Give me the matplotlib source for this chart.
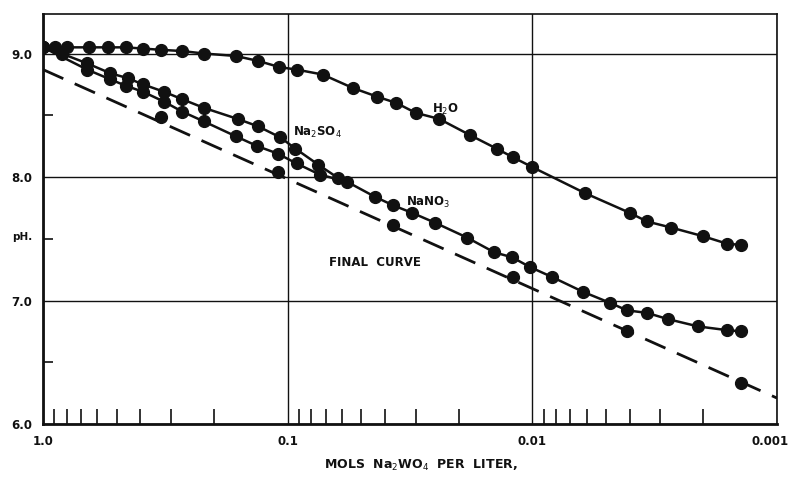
import matplotlib
matplotlib.use("Agg")
import matplotlib.pyplot as plt
import matplotlib.transforms as mtransforms
from matplotlib.ticker import FixedLocator, NullFormatter, LogLocator

# ---- data ----
h2o_conc = [1.0, 0.89, 0.80, 0.65, 0.54, 0.46, 0.39, 0.33, 0.27, 0.22, 0.163, 0.132,
            0.108, 0.092, 0.072, 0.054, 0.043, 0.036, 0.030, 0.024, 0.018, 0.014,
            0.012, 0.010, 0.0061, 0.0040, 0.0034, 0.0027, 0.0020, 0.0016, 0.0014]
h2o_ph = [9.05, 9.05, 9.05, 9.05, 9.05, 9.05, 9.04, 9.03, 9.02, 9.00, 8.98, 8.94,
          8.89, 8.87, 8.83, 8.72, 8.65, 8.60, 8.52, 8.47, 8.34, 8.23,
          8.16, 8.08, 7.87, 7.71, 7.64, 7.59, 7.52, 7.46, 7.45]

na2so4_conc = [1.0, 0.84, 0.66, 0.53, 0.45, 0.39, 0.32, 0.27, 0.22, 0.16, 0.132,
               0.107, 0.093, 0.075, 0.062]
na2so4_ph = [9.05, 9.00, 8.92, 8.84, 8.80, 8.75, 8.69, 8.63, 8.56, 8.47, 8.41,
             8.32, 8.23, 8.10, 7.99]

nano3_conc = [1.0, 0.66, 0.53, 0.46, 0.39, 0.32, 0.27, 0.22, 0.163, 0.133, 0.110,
              0.092, 0.074, 0.057, 0.044, 0.037, 0.031, 0.025, 0.0185, 0.0143,
              0.0121, 0.0102, 0.0083, 0.0062, 0.0048, 0.0041, 0.0034, 0.0028,
              0.0021, 0.0016, 0.0014]
nano3_ph = [9.05, 8.87, 8.79, 8.74, 8.69, 8.61, 8.53, 8.45, 8.33, 8.25, 8.19,
            8.11, 8.02, 7.96, 7.84, 7.77, 7.71, 7.63, 7.51, 7.39,
            7.35, 7.27, 7.19, 7.07, 6.98, 6.92, 6.90, 6.85,
            6.79, 6.76, 6.75]

final_pts_conc = [0.33, 0.11, 0.037, 0.012, 0.0041, 0.0014]
final_pts_ph = [8.49, 8.04, 7.61, 7.19, 6.75, 6.33]
final_line_conc = [1.0, 0.001]
final_line_ph = [8.87, 6.21]

x_ticks = [1.0, 0.1, 0.01, 0.001]
x_ticklabels = ["1.0", "0.1", "0.01", "0.001"]
y_ticks = [6.0, 7.0, 8.0, 9.0]
y_ticklabels = ["6.0", "7.0", "8.0", "9.0"]
y_minor = [6.5, 7.5, 8.5]

# ---- figure ----
INK = "#111111"
plt.rcParams["font.family"] = ["DejaVu Sans"]
fig = plt.figure(figsize=(7.93, 4.78), dpi=100)
ax = fig.add_axes([43 / 793, 1 - 424 / 478, 734 / 793, 410 / 478])

ax.set_xscale("log")
ax.set_xlim(1.0, 0.001)
ax.set_ylim(6.0, 9.32)

mk = dict(marker="o", markersize=8.5, color=INK, lw=1.8)
ax.plot(h2o_conc, h2o_ph, **mk, zorder=4)
ax.plot(na2so4_conc, na2so4_ph, **mk, zorder=4)
ax.plot(nano3_conc, nano3_ph, **mk, zorder=4)
ax.plot(final_line_conc, final_line_ph, color=INK, lw=2.0,
        linestyle=(0, (8, 4.5)), zorder=3)
ax.plot(final_pts_conc, final_pts_ph, "o", markersize=8.5, color=INK, zorder=4)

# ticks
ax.xaxis.set_major_locator(FixedLocator(x_ticks))
ax.set_xticklabels(x_ticklabels)
ax.xaxis.set_minor_locator(LogLocator(base=10, subs=[2, 3, 4, 5, 6, 7, 8, 9]))
ax.xaxis.set_minor_formatter(NullFormatter())
ax.yaxis.set_major_locator(FixedLocator(y_ticks))
ax.set_yticklabels(y_ticklabels)
ax.yaxis.set_minor_locator(FixedLocator(y_minor))

ax.tick_params(axis="both", which="major", length=0, labelsize=8.5,
               labelcolor=INK, pad=8)
ax.tick_params(axis="x", which="minor", direction="in", length=11, width=1.2,
               color=INK, top=False)
ax.tick_params(axis="y", which="minor", direction="in", length=7, width=1.2,
               color=INK, right=False)
for lab in ax.get_xticklabels() + ax.get_yticklabels():
    lab.set_fontweight("bold")

# keep the last x label inside the figure
last = ax.get_xticklabels()[-1]
last.set_horizontalalignment("right")
last.set_transform(last.get_transform() +
                   mtransforms.ScaledTranslation(12 / 100, 0, fig.dpi_scale_trans))

ax.grid(True, which="major", color=INK, lw=1.0, zorder=1)

for side in ("left", "bottom"):
    ax.spines[side].set_linewidth(2.0)
    ax.spines[side].set_color(INK)
for side in ("top", "right"):
    ax.spines[side].set_linewidth(1.2)
    ax.spines[side].set_color(INK)

# curve labels
tk = dict(transform=ax.transAxes, fontsize=8.5, fontweight="bold", color=INK,
          va="center", ha="left")
ax.text(0.530, 0.766, "H$_2$O", **tk)
ax.text(0.341, 0.710, "Na$_2$SO$_4$", **tk)
ax.text(0.495, 0.541, "NaNO$_3$", **tk)
ax.text(0.390, 0.395, "FINAL  CURVE", **tk)

fig.text(0.028, 0.504, "pH.", fontsize=7.5, fontweight="bold", color=INK,
         ha="center", va="center")
fig.text(0.531, 0.027, "MOLS  Na$_2$WO$_4$  PER  LITER,", fontsize=9,
         fontweight="bold", color=INK, ha="center", va="center")

fig.savefig("out.png", dpi=100)
